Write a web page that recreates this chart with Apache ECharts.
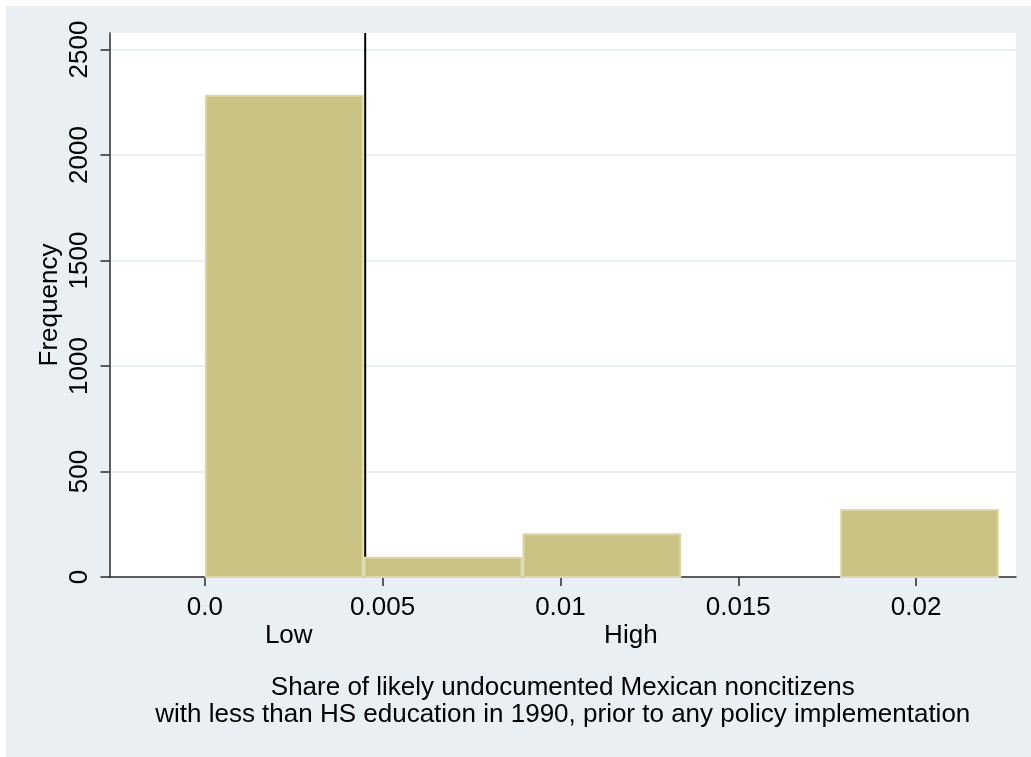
<!DOCTYPE html>
<html>
<head>
<meta charset="utf-8">
<script src="https://cdn.jsdelivr.net/npm/echarts@6/dist/echarts.min.js"></script>
<style>
  html, body { margin: 0; padding: 0; background: #ffffff; }
  #bg { position: absolute; left: 6px; top: 6px; right: 0; bottom: 0; background: #e9eff2; }
  #chart { position: absolute; left: 0; top: 0; width: 1031px; height: 757px; }
</style>
</head>
<body>
<div id="bg"></div>
<div id="chart"></div>
<script>
// Histogram bins: edges on the share axis and the count in each bin
const binEdges = [0, 0.004466, 0.008932, 0.013398, 0.017864, 0.02233];
const frequencies = [2285, 96, 207, 0, 322];

// Cutoff separating low and high exposure areas
const cutoff = 0.00451;

// Axis ticks and labels
const yTicks = [0, 500, 1000, 1500, 2000, 2500];
const xTicks = [0, 0.005, 0.01, 0.015, 0.02];
const xTickLabels = ['0.0', '0.005', '0.01', '0.015', '0.02'];
const groupLabels = ['Low', 'High'];
const groupPositions = [0.00236, 0.01198];

const xMin = -0.00268, xMax = 0.02281;
const yMin = 0, yMax = 2578;

const FONT = '"Liberation Sans", Arial, Helvetica, sans-serif';
const FS = 26;
const barData = frequencies.map((f, i) => [binEdges[i], binEdges[i + 1], f]);

function labelFor(values, labels) {
  return function (v) {
    for (let i = 0; i < values.length; i++) {
      if (Math.abs(values[i] - v) < 1e-9) return labels[i];
    }
    return '';
  };
}

const chart = echarts.init(document.getElementById('chart'), null, { renderer: 'canvas' });
chart.setOption({
  animation: false,
  backgroundColor: 'transparent',
  textStyle: { fontFamily: FONT },
  grid: {
    left: 109.5, right: 15, top: 33, bottom: 180,
    show: true, backgroundColor: '#ffffff', borderWidth: 0
  },
  xAxis: [
    {
      type: 'value', min: xMin, max: xMax,
      axisLine: { show: true, onZero: false, lineStyle: { color: '#2b2b2b', width: 1.5 } },
      axisTick: { show: true, length: 9, customValues: xTicks, lineStyle: { color: '#2b2b2b', width: 1.5 } },
      axisLabel: {
        show: true, customValues: xTicks, margin: 18,
        fontSize: FS, color: '#000000', fontFamily: FONT,
        formatter: labelFor(xTicks, xTickLabels)
      },
      splitLine: { show: false },
      name: 'Share of likely undocumented Mexican noncitizens\nwith less than HS education in 1990, prior to any policy implementation',
      nameLocation: 'middle', nameGap: 97, nameMoveOverlap: false,
      nameTextStyle: { fontSize: FS, color: '#000000', lineHeight: 27, fontFamily: FONT }
    },
    {
      type: 'value', min: xMin, max: xMax, position: 'bottom',
      axisLine: { show: false }, axisTick: { show: false }, splitLine: { show: false },
      axisLabel: {
        show: true, customValues: groupPositions, margin: 46,
        fontSize: FS, color: '#000000', fontFamily: FONT,
        formatter: labelFor(groupPositions, groupLabels)
      }
    }
  ],
  yAxis: {
    type: 'value', min: yMin, max: yMax,
    axisLine: { show: true, onZero: false, lineStyle: { color: '#2b2b2b', width: 1.5 } },
    axisTick: { show: true, length: 9, customValues: yTicks, lineStyle: { color: '#2b2b2b', width: 1.5 } },
    axisLabel: {
      show: true, customValues: yTicks, rotate: 90, margin: 17,
      fontSize: FS, color: '#000000', fontFamily: FONT,
      formatter: function (v) { return String(v); }
    },
    splitLine: { show: true, lineStyle: { color: '#e8f0f3', width: 2 } },
    name: 'Frequency', nameLocation: 'middle', nameGap: 47, nameRotate: 90, nameMoveOverlap: false,
    nameTextStyle: { fontSize: FS, color: '#000000', fontFamily: FONT }
  },
  series: [
    {
      // vertical cutoff line, drawn beneath the bars
      type: 'line', z: 1, silent: true, symbol: 'none',
      lineStyle: { color: '#000000', width: 2 },
      data: [[cutoff, yMin], [cutoff, yMax]]
    },
    {
      type: 'custom', z: 2, data: barData, xAxisIndex: 0,
      renderItem: function (params, api) {
        const x0 = api.value(0), x1 = api.value(1), f = api.value(2);
        if (!f) return null;
        const top = api.coord([x0, f]);
        const base = api.coord([x1, 0]);
        return {
          type: 'rect',
          shape: { x: top[0] + 1, y: top[1] + 1, width: base[0] - top[0] - 2, height: base[1] - top[1] - 1 },
          style: { fill: '#cac283', stroke: '#ddd8ab', lineWidth: 2 }
        };
      }
    }
  ]
});
</script>
</body>
</html>
